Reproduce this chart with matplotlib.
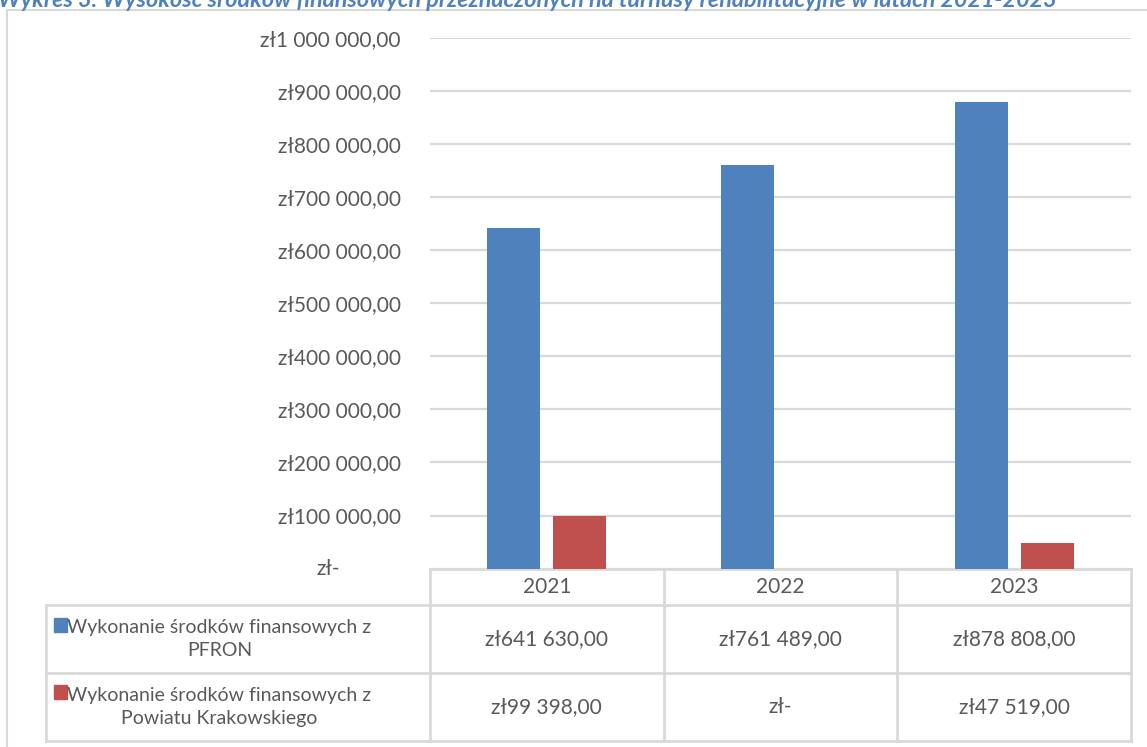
import matplotlib
matplotlib.use('Agg')
from matplotlib import pyplot as plt
from matplotlib.patches import Rectangle
from matplotlib.lines import Line2D
import numpy as np

years = ['2021', '2022', '2023']
pfron = [641630.00, 761489.00, 878808.00]
powiat = [99398.00, 0.00, 47519.00]
series_names = ['Wykonanie środków finansowych z\nPFRON',
                'Wykonanie środków finansowych z\nPowiatu Krakowskiego']
title = ('Wykres 3. Wysokość środków finansowych przeznaczonych na turnusy '
         'rehabilitacyjne w latach 2021-2023')

blue = '#4F81BD'
red = '#C0504D'
grey_txt = '#595959'
grid_col = '#D9D9D9'

plt.rcParams['font.family'] = ['Lato', 'DejaVu Sans']


def zl(v):
    if v == 0:
        return 'zł-'
    s = f'{v:,.2f}'.replace(',', ' ').replace('.', ',')
    return 'zł' + s


fig = plt.figure(figsize=(11.47, 7.47), dpi=100)
ax = fig.add_axes([430 / 1147, 1 - 568.6 / 747, 701 / 1147, 530.6 / 747])

x = np.arange(len(years))
w = 0.227
off = 0.141
ax.bar(x - off, pfron, w, color=blue, zorder=3)
ax.bar(x + off, powiat, w, color=red, zorder=3)

ax.set_xlim(-0.5, 2.5)
ax.set_ylim(0, 1000000)
ticks = np.arange(0, 1000001, 100000)
ax.set_yticks(ticks)
ax.set_yticklabels([zl(t) if t > 0 else '' for t in ticks])
ax.tick_params(axis='y', length=0, pad=21, labelsize=15, labelcolor=grey_txt)
ax.set_xticks([])
ax.grid(axis='y', color=grid_col, lw=1.6, zorder=0)
for sp in ax.spines.values():
    sp.set_visible(False)
# zero label of the accounting format sits further left
ax.text(-0.128, 0, 'zł-', transform=ax.transAxes, ha='right', va='center',
        fontsize=15, color=grey_txt)

# data table under the chart
T = ax.transAxes
rows_y = [0, -0.0686, -0.1968, -0.324]
left = -0.5478
kw = dict(transform=T, color=grid_col, lw=2, clip_on=False)
ax.add_line(Line2D([0, 1], [0, 0], **kw))
for yy in rows_y[1:]:
    ax.add_line(Line2D([left, 1], [yy, yy], **kw))
for xx in [0, 1 / 3, 2 / 3, 1]:
    ax.add_line(Line2D([xx, xx], [0, rows_y[-1]], **kw))
ax.add_line(Line2D([left, left], [rows_y[1], rows_y[-1]], **kw))

for i, yr in enumerate(years):
    cx = (i + 0.5) / 3
    ax.text(cx, -0.0347, yr, transform=T, ha='center', va='center',
            fontsize=15, color=grey_txt)
    ax.text(cx, -0.1327, zl(pfron[i]), transform=T, ha='center', va='center',
            fontsize=15, color=grey_txt)
    ax.text(cx, -0.2608, zl(powiat[i]), transform=T, ha='center', va='center',
            fontsize=15, color=grey_txt)

for name, col, yc, mb in [(series_names[0], blue, -0.1327, -0.1195),
                          (series_names[1], red, -0.2608, -0.2458)]:
    ax.add_patch(Rectangle((-0.5364, mb), 0.0186, 0.0264, transform=T,
                           color=col, clip_on=False))
    ax.text(-0.3003, yc, name, transform=T, ha='center', va='center',
            multialignment='center', linespacing=1.45, fontsize=14,
            color=grey_txt)

# chart area frame (partly outside the picture)
fk = dict(transform=fig.transFigure, color=grid_col, lw=1.5)
fig.add_artist(Line2D([7 / 1147, 1], [1 - 9.5 / 747, 1 - 9.5 / 747], **fk))
fig.add_artist(Line2D([7 / 1147, 7 / 1147], [0, 1 - 9.5 / 747], **fk))

fig.text(-0.002, 1 - 7 / 747, title, ha='left', va='baseline', fontsize=16.8,
         fontweight='bold', fontstyle='italic', color=blue)

fig.savefig('out.png', dpi=100)
